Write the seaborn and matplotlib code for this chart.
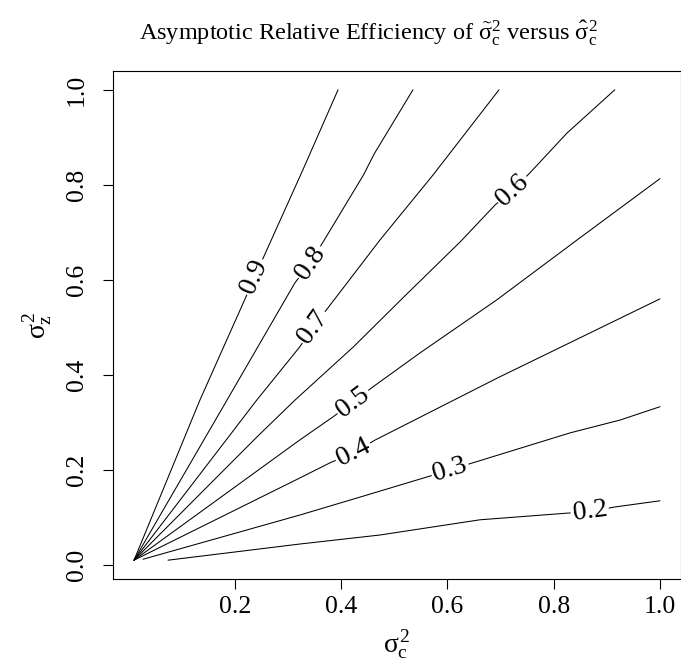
import numpy as np
import pandas as pd
import matplotlib
matplotlib.use("Agg")
import matplotlib.pyplot as plt
import seaborn as sns

# ---- data ----
levels = [0.2, 0.3, 0.4, 0.5, 0.6, 0.7, 0.8, 0.9]

x_02 = [0.074, 0.322, 0.473, 0.661, 0.825, 0.868, 0.915, 1.000]
y_02 = [0.010, 0.044, 0.063, 0.095, 0.109, 0.112, 0.122, 0.135]

x_03 = [0.027, 0.322, 0.448, 0.561, 0.605, 0.648, 0.831, 0.925, 1.000]
y_03 = [0.012, 0.105, 0.147, 0.185, 0.200, 0.215, 0.278, 0.305, 0.333]

x_04 = [0.010, 0.322, 0.379, 0.423, 0.464, 0.695, 1.000]
y_04 = [0.010, 0.183, 0.215, 0.236, 0.263, 0.394, 0.560]

x_05 = [0.010, 0.322, 0.385, 0.422, 0.460, 0.548, 0.693, 0.844, 1.000]
y_05 = [0.010, 0.263, 0.312, 0.343, 0.375, 0.446, 0.558, 0.684, 0.813]

x_06 = [0.010, 0.241, 0.313, 0.423, 0.516, 0.624, 0.690, 0.723, 0.755, 0.825, 0.915]
y_06 = [0.010, 0.269, 0.347, 0.459, 0.562, 0.680, 0.758, 0.789, 0.825, 0.909, 1.000]

x_07 = [0.010, 0.241, 0.322, 0.347, 0.375, 0.473, 0.573, 0.697]
y_07 = [0.010, 0.347, 0.459, 0.501, 0.541, 0.684, 0.821, 1.000]

x_08 = [0.010, 0.185, 0.313, 0.342, 0.366, 0.442, 0.462, 0.535]
y_08 = [0.010, 0.347, 0.594, 0.636, 0.680, 0.821, 0.865, 1.000]

x_09 = [0.010, 0.134, 0.219, 0.237, 0.328, 0.394]
y_09 = [0.010, 0.347, 0.560, 0.606, 0.832, 1.000]

xs = [x_02, x_03, x_04, x_05, x_06, x_07, x_08, x_09]
ys = [y_02, y_03, y_04, y_05, y_06, y_07, y_08, y_09]

label_x = [0.868, 0.605, 0.423, 0.422, 0.723, 0.347, 0.342, 0.237]
label_y = [0.112, 0.200, 0.236, 0.343, 0.789, 0.501, 0.636, 0.606]
label_text = ["0.2", "0.3", "0.4", "0.5", "0.6", "0.7", "0.8", "0.9"]

x_ticks = [0.2, 0.4, 0.6, 0.8, 1.0]
y_ticks = [0.0, 0.2, 0.4, 0.6, 0.8, 1.0]
x_tick_labels = ["0.2", "0.4", "0.6", "0.8", "1.0"]
y_tick_labels = ["0.0", "0.2", "0.4", "0.6", "0.8", "1.0"]

# ---- build long-form table ----
rows = []
for lev, xx, yy in zip(levels, xs, ys):
    for i, (a, b) in enumerate(zip(xx, yy)):
        rows.append({"level": lev, "order": i, "x": a, "y": b})
df = pd.DataFrame(rows)

sns.set_theme(style="ticks")
plt.rcParams["font.family"] = ["Liberation Serif", "DejaVu Serif"]
plt.rcParams["mathtext.fontset"] = "custom"
plt.rcParams["mathtext.rm"] = "Liberation Serif"
plt.rcParams["mathtext.it"] = "Liberation Serif"
plt.rcParams["mathtext.bf"] = "Liberation Serif:bold"

W, H = 681, 662
fig = plt.figure(figsize=(W / 100, H / 100), dpi=100)
ax = fig.add_axes([113 / W, (H - 579) / H, (681 - 113) / W, (579 - 71) / H])

sns.lineplot(data=df, x="x", y="y", units="level", estimator=None, sort=False,
             color="black", linewidth=0.75, ax=ax, legend=False)

ax.set_xlim(-0.0296, 1.0396)
ax.set_ylim(-0.0296, 1.0396)

# contour labels
for lev, xx, yy, lx, ly, txt in zip(levels, xs, ys, label_x, label_y, label_text):
    xx = np.asarray(xx); yy = np.asarray(yy)
    i = int(np.argmin((xx - lx) ** 2 + (yy - ly) ** 2))
    i0 = max(i - 1, 0); i1 = min(i + 1, len(xx) - 1)
    ang = np.degrees(np.arctan2(yy[i1] - yy[i0], xx[i1] - xx[i0]))
    ax.text(lx, ly, txt, rotation=ang, transform_rotates_text=True,
            rotation_mode="anchor", ha="center", va="center", fontsize=20,
            color="black", zorder=5,
            bbox=dict(facecolor="white", edgecolor="none", pad=1.5))

ax.set_xticks(x_ticks)
ax.set_xticklabels(x_tick_labels)
ax.set_yticks(y_ticks)
ax.set_yticklabels(y_tick_labels)
ax.tick_params(axis="both", direction="out", length=7.5, width=0.8,
               color="black", labelsize=18.5, labelcolor="black")
ax.tick_params(axis="x", pad=5)
ax.tick_params(axis="y", pad=14)
for lab in ax.get_yticklabels():
    lab.set_rotation(90)
    lab.set_rotation_mode("anchor")
    lab.set_ha("center")
    lab.set_va("baseline")

for s in ax.spines.values():
    s.set_visible(True)
    s.set_color("black")
    s.set_linewidth(0.8)
ax.set_xlabel("")
ax.set_ylabel("")
ax.grid(False)

fig.text(368 / W, 1 - 40 / H,
         r"Asymptotic Relative Efficiency of $\tilde{\sigma}_{c}^{2}$ versus $\hat{\sigma}_{c}^{2}$",
         ha="center", va="baseline", fontsize=17.5, color="black")
fig.text(397 / W, 1 - 652 / H, r"$\sigma_{c}^{2}$", ha="center", va="baseline",
         fontsize=20, color="black")
fig.text(45 / W, 1 - 325 / H, r"$\sigma_{z}^{2}$", ha="center", va="baseline",
         rotation=90, rotation_mode="anchor", fontsize=20, color="black")

fig.savefig("out.png", dpi=100, facecolor="white")
